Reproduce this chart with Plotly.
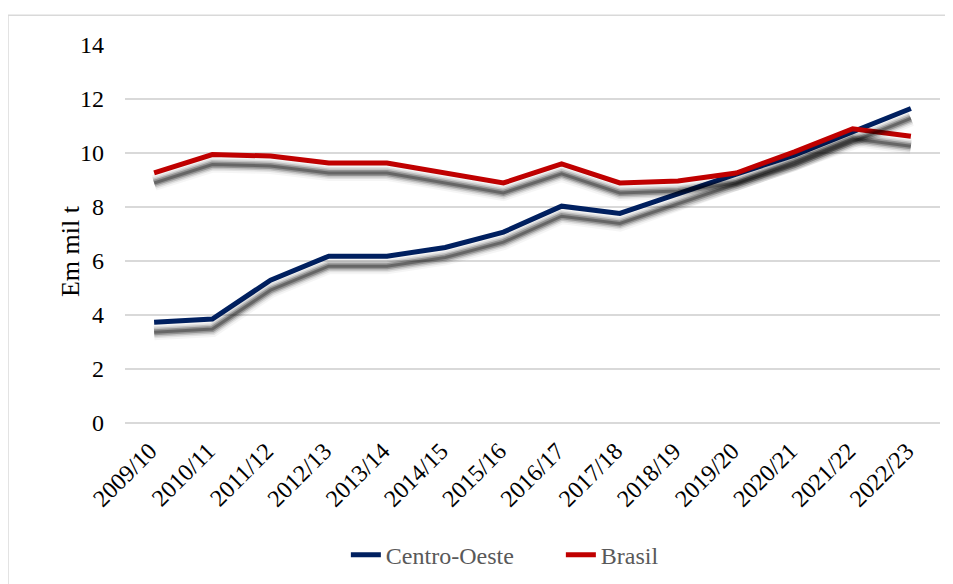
import plotly.graph_objects as go

safras = ["2009/10", "2010/11", "2011/12", "2012/13", "2013/14", "2014/15", "2015/16",
          "2016/17", "2017/18", "2018/19", "2019/20", "2020/21", "2021/22", "2022/23"]
centro_oeste = [3.73, 3.85, 5.29, 6.18, 6.18, 6.50, 7.07, 8.03, 7.76, 8.50, 9.22, 9.92, 10.78, 11.65]
brasil = [9.26, 9.94, 9.89, 9.63, 9.63, 9.26, 8.89, 9.60, 8.89, 8.96, 9.26, 10.04, 10.90, 10.62]

series = [("Centro-Oeste", centro_oeste, "#002060"), ("Brasil", brasil, "#C00000")]
font_name = "Liberation Serif, Times New Roman, serif"

fig = go.Figure()

# soft drop shadow: same data on an overlaid axis shifted a few pixels down
for name, vals, color in series:
    for w, a in [(16, 0.04), (12, 0.08), (9, 0.14), (6, 0.24), (3, 0.3)]:
        fig.add_trace(go.Scatter(x=safras, y=vals, mode="lines", yaxis="y2",
                                 line=dict(color=f"rgba(0,0,0,{a})", width=w),
                                 showlegend=False, hoverinfo="skip"))

for name, vals, color in series:
    fig.add_trace(go.Scatter(x=safras, y=vals, mode="lines", name=name,
                             line=dict(color=color, width=5)))

# page body adds an 8px offset, so the figure is 8px smaller on each side
fig.update_layout(
    width=945, height=576,
    margin=dict(l=117, r=13, t=37, b=161, autoexpand=False),
    paper_bgcolor="white", plot_bgcolor="white",
    font=dict(family=font_name, size=24, color="black"),
    showlegend=True,
    legend=dict(orientation="h", x=0.271, xanchor="left", yref="container", y=0.05,
                yanchor="middle", font=dict(size=24, color="#595959"), entrywidth=170,
                bgcolor="rgba(0,0,0,0)"),
    xaxis=dict(type="category", tickangle=-45, showgrid=False, showline=False,
               ticks="", ticklabelstandoff=4, range=[-0.5, 13.5],
               tickvals=safras, ticktext=[s + "\u00a0" for s in safras]),
    yaxis=dict(range=[0, 14], dtick=2, showgrid=True, gridcolor="#D9D9D9", gridwidth=1.5,
               zeroline=True, zerolinecolor="#D9D9D9", zerolinewidth=1.5, showline=False,
               ticklabelstandoff=20),
    yaxis2=dict(range=[0.37, 14.37], overlaying="y", visible=False),
    annotations=[dict(text="Em mil t", xref="paper", yref="paper", x=-0.0675, y=0.4547,
                      xanchor="center", yanchor="middle", textangle=-90, showarrow=False,
                      font=dict(size=26, color="black"))],
    shapes=[dict(type="rect", xref="paper", yref="paper", x0=-0.1436, x1=1.05,
                 y0=-0.6, y1=1.0785, line=dict(color="#D9D9D9", width=1.5),
                 fillcolor="rgba(0,0,0,0)", layer="below")],
)

fig.write_html("out.html")
